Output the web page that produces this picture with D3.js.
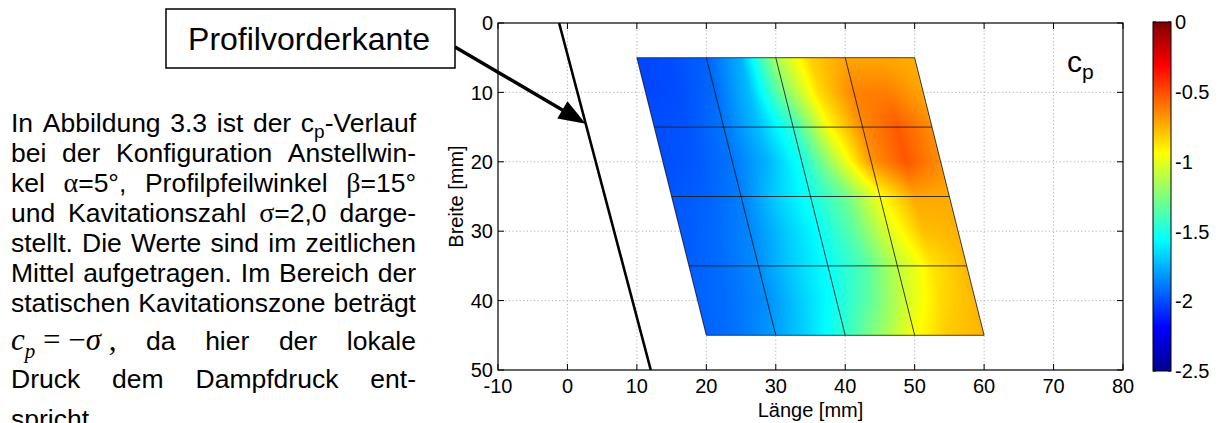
<!DOCTYPE html>
<html>
<head>
<meta charset="utf-8">
<title>cp-Verlauf</title>
<script src="https://d3js.org/d3.v7.min.js"></script>
<style>
  body { margin: 0; background: #fff; }
  svg { display: block; font-family: "Liberation Sans", Arial, sans-serif; }
</style>
</head>
<body>
<svg id="fig" width="1220" height="423"></svg>
<script>
// ---- data ----
const xTicks = [-10, 0, 10, 20, 30, 40, 50, 60, 70, 80];
const yTicks = [0, 10, 20, 30, 40, 50];
const cbTicks = [0, -0.5, -1, -1.5, -2, -2.5];

// measuring grid (mm): node rows in Breite, node columns as offset from the front edge
const rowY = [5, 10, 15, 20, 25, 30, 35, 40, 45];
const colOffset = [0, 5, 10, 15, 20, 25, 30, 35, 40];
const frontX = [10, 20];          // front edge of the grid at first / last row
const cellRows = [5, 15, 25, 35, 45];
const cellCols = [0, 10, 20, 30, 40];

// time-averaged cp at the nodes (rows top -> bottom, columns front -> back)
const cp = [
  [-2.02, -2.00, -1.95, -1.75, -1.15, -0.82, -0.72, -0.72, -0.74],
  [-2.02, -2.00, -1.93, -1.72, -1.25, -0.85, -0.63, -0.62, -0.72],
  [-2.00, -1.98, -1.90, -1.72, -1.45, -0.95, -0.65, -0.53, -0.66],
  [-2.00, -1.97, -1.90, -1.75, -1.52, -1.10, -0.68, -0.52, -0.66],
  [-1.98, -1.95, -1.88, -1.68, -1.52, -1.30, -0.95, -0.72, -0.73],
  [-1.97, -1.93, -1.86, -1.70, -1.55, -1.33, -1.02, -0.78, -0.75],
  [-1.96, -1.92, -1.84, -1.68, -1.55, -1.38, -1.10, -0.88, -0.76],
  [-1.95, -1.91, -1.84, -1.68, -1.52, -1.32, -1.05, -0.85, -0.76],
  [-1.95, -1.90, -1.80, -1.65, -1.45, -1.20, -0.95, -0.80, -0.75]
];

// Profilvorderkante (Länge, Breite)
const leadingEdge = [[-1.2, 0], [12.0, 50]];
const arrowAt = 14.5;   // Breite where the arrow meets the edge

const paragraph = [
  "In Abbildung 3.3 ist der c_p-Verlauf",
  "bei der Konfiguration Anstellwin-",
  "kel α=5°, Profilpfeilwinkel β=15°",
  "und Kavitationszahl σ=2,0 darge-",
  "stellt. Die Werte sind im zeitlichen",
  "Mittel aufgetragen. Im Bereich der",
  "statischen Kavitationszone beträgt",
  "$ da hier der lokale",
  "Druck dem Dampfdruck ent-",
  "spricht."
];

// jet colormap
const jetStops = [-2.5, -2.1875, -1.5625, -0.9375, -0.3125, 0];
const jetColors = ["#000090", "#0000ff", "#00ffff", "#ffff00", "#ff0000", "#800000"];

// ---- layout ----
const W = 1220, H = 423;
const svg = d3.select("#fig");

const x = d3.scaleLinear().domain([-10, 80]).range([498, 1123]);
const y = d3.scaleLinear().domain([0, 50]).range([23, 370]);
const cbY = d3.scaleLinear().domain([0, -2.5]).range([22, 371]);
const jet = d3.scaleLinear().domain(jetStops).range(jetColors).clamp(true);

const x0 = x.range()[0], x1 = x.range()[1], y0 = y.range()[0], y1 = y.range()[1];

svg.append("rect").attr("width", W).attr("height", H).attr("fill", "#fff");

// grid
const grid = svg.append("g").attr("stroke", "#b4b4b4").attr("stroke-dasharray", "1.2,2.4");
grid.selectAll(".gx").data(xTicks.slice(1, -1)).join("line")
  .attr("x1", d => x(d)).attr("x2", d => x(d)).attr("y1", y0).attr("y2", y1);
grid.selectAll(".gy").data(yTicks.slice(1, -1)).join("line")
  .attr("y1", d => y(d)).attr("y2", d => y(d)).attr("x1", x0).attr("x2", x1);

// interpolated cp field (shading interp) drawn into a canvas
const nR = rowY.length, nC = colOffset.length;
const span = colOffset[nC - 1];
const cv = document.createElement("canvas");
cv.width = W; cv.height = H;
const ctx = cv.getContext("2d");
const img = ctx.createImageData(W, H);
for (let py = Math.floor(y(rowY[0])) - 1; py <= Math.ceil(y(rowY[nR - 1])) + 1; py++) {
  for (let px = Math.floor(x(frontX[0])) - 1; px <= Math.ceil(x(frontX[1] + span)) + 1; px++) {
    const dY = y.invert(py + 0.5), dX = x.invert(px + 0.5);
    const v = (dY - rowY[0]) / (rowY[nR - 1] - rowY[0]);
    if (v < 0 || v > 1) continue;
    const front = frontX[0] + (frontX[1] - frontX[0]) * v;
    const u = (dX - front) / span;
    if (u < 0 || u > 1) continue;
    const fr = v * (nR - 1), fc = u * (nC - 1);
    const r = Math.min(Math.floor(fr), nR - 2), c = Math.min(Math.floor(fc), nC - 2);
    const tr = fr - r, tc = fc - c;
    const val = (1 - tr) * ((1 - tc) * cp[r][c] + tc * cp[r][c + 1]) +
                tr * ((1 - tc) * cp[r + 1][c] + tc * cp[r + 1][c + 1]);
    const col = d3.rgb(jet(val));
    const k = (py * W + px) * 4;
    img.data[k] = col.r; img.data[k + 1] = col.g; img.data[k + 2] = col.b; img.data[k + 3] = 255;
  }
}
ctx.putImageData(img, 0, 0);
svg.append("image").attr("x", 0).attr("y", 0).attr("width", W).attr("height", H)
  .attr("href", cv.toDataURL());

// cell lines
const frontAt = b => frontX[0] + (frontX[1] - frontX[0]) * (b - rowY[0]) / (rowY[nR - 1] - rowY[0]);
const cells = svg.append("g").attr("stroke", "#1c1c1c").attr("stroke-width", 1).attr("stroke-opacity", 0.85);
cells.selectAll(".hr").data(cellRows).join("line")
  .attr("x1", d => x(frontAt(d))).attr("x2", d => x(frontAt(d) + span))
  .attr("y1", d => y(d)).attr("y2", d => y(d));
cells.selectAll(".vc").data(cellCols).join("line")
  .attr("x1", d => x(frontX[0] + d)).attr("y1", y(rowY[0]))
  .attr("x2", d => x(frontX[1] + d)).attr("y2", y(rowY[nR - 1]));

// leading edge
svg.append("line")
  .attr("x1", x(leadingEdge[0][0])).attr("y1", y(leadingEdge[0][1]))
  .attr("x2", x(leadingEdge[1][0])).attr("y2", y(leadingEdge[1][1]))
  .attr("stroke", "#000").attr("stroke-width", 2.6);

// axes box and ticks
svg.append("rect").attr("x", x0).attr("y", y0).attr("width", x1 - x0).attr("height", y1 - y0)
  .attr("fill", "none").attr("stroke", "#000").attr("stroke-width", 1.2);
const tk = svg.append("g").attr("stroke", "#000").attr("stroke-width", 1);
xTicks.forEach(d => {
  tk.append("line").attr("x1", x(d)).attr("x2", x(d)).attr("y1", y1).attr("y2", y1 - 6);
  tk.append("line").attr("x1", x(d)).attr("x2", x(d)).attr("y1", y0).attr("y2", y0 + 6);
});
yTicks.forEach(d => {
  tk.append("line").attr("y1", y(d)).attr("y2", y(d)).attr("x1", x0).attr("x2", x0 + 6);
  tk.append("line").attr("y1", y(d)).attr("y2", y(d)).attr("x1", x1).attr("x2", x1 - 6);
});

const lab = svg.append("g").attr("font-size", 20).attr("fill", "#000");
lab.selectAll(".xl").data(xTicks).join("text")
  .attr("x", d => x(d)).attr("y", 393).attr("text-anchor", "middle").text(d => d);
lab.selectAll(".yl").data(yTicks).join("text")
  .attr("x", x0 - 5).attr("y", d => y(d)).attr("dy", "0.36em").attr("text-anchor", "end").text(d => d);
lab.append("text").attr("x", (x0 + x1) / 2).attr("y", 417).attr("text-anchor", "middle").text("Länge [mm]");
lab.append("text").attr("transform", `translate(463,${(y0 + y1) / 2}) rotate(-90)`)
  .attr("text-anchor", "middle").text("Breite [mm]");

// cp label in the plot
const cpl = svg.append("text").attr("x", 1067).attr("y", 72).attr("font-size", 30);
cpl.append("tspan").text("c");
cpl.append("tspan").attr("font-size", 21).attr("dy", 7).text("p");

// colorbar
const grad = svg.append("defs").append("linearGradient").attr("id", "jet")
  .attr("x1", 0).attr("x2", 0).attr("y1", 1).attr("y2", 0);
jetStops.forEach((s, i) => grad.append("stop")
  .attr("offset", (s - jetStops[0]) / (jetStops[jetStops.length - 1] - jetStops[0]))
  .attr("stop-color", jetColors[i]));
const cbx0 = 1153, cbx1 = 1171;
svg.append("rect").attr("x", cbx0).attr("y", cbY(0)).attr("width", cbx1 - cbx0)
  .attr("height", cbY(-2.5) - cbY(0)).attr("fill", "url(#jet)").attr("stroke", "#000").attr("stroke-width", 1);
cbTicks.forEach(d => {
  tk.append("line").attr("x1", cbx0).attr("x2", cbx0 + 3).attr("y1", cbY(d)).attr("y2", cbY(d));
  tk.append("line").attr("x1", cbx1).attr("x2", cbx1 - 3).attr("y1", cbY(d)).attr("y2", cbY(d));
});
lab.selectAll(".cl").data(cbTicks).join("text")
  .attr("x", cbx1 + 4).attr("y", d => cbY(d)).attr("dy", "0.36em").text(d => d);

// ---- paragraph ----
const pg = svg.append("g").attr("font-size", 26.5).attr("fill", "#000");
const textLeft = 11, textRight = 416;
const baselines = [132, 162, 192, 222, 252, 282, 312, 350, 388, 428];

function addWord(word, yb) {
  const t = pg.append("text").attr("x", 0).attr("y", yb);
  if (word === "$") {
    const f = t.attr("font-family", "Liberation Serif, Times New Roman, serif").attr("font-size", 31);
    f.append("tspan").attr("font-style", "italic").text("c");
    f.append("tspan").attr("font-style", "italic").attr("font-size", 21).attr("dy", 8).text("p");
    f.append("tspan").attr("dy", -8).text(" = \u2212");
    f.append("tspan").attr("font-style", "italic").text("σ");
    f.append("tspan").text(" ,");
    return t;
  }
  const parts = word.match(/_.|[αβσ]|[^_αβσ]+/g);
  let lowered = false;
  parts.forEach(p => {
    const s = t.append("tspan");
    if (lowered) { s.attr("dy", -6); lowered = false; }
    if (p[0] === "_") {
      s.attr("font-size", 19).attr("dy", 6).text(p[1]);
      lowered = true;
    } else if (/[αβσ]/.test(p)) {
      s.attr("font-family", "Liberation Serif, serif").attr("font-size", 28).text(p);
    } else {
      s.text(p);
    }
  });
  return t;
}

paragraph.forEach((line, i) => {
  const words = line.split(" ");
  const nodes = words.map(w => addWord(w, baselines[i]));
  const widths = nodes.map(n => n.node().getComputedTextLength());
  const total = d3.sum(widths);
  const last = i === paragraph.length - 1;
  const gap = last || words.length < 2 ? 7.4 : (textRight - textLeft - total) / (words.length - 1);
  let cx = textLeft;
  nodes.forEach((n, k) => { n.attr("x", cx); cx += widths[k] + gap; });
});

// ---- annotation: box + arrow ----
const tipB = arrowAt;
const tipL = leadingEdge[0][0] + (leadingEdge[1][0] - leadingEdge[0][0]) *
  (tipB - leadingEdge[0][1]) / (leadingEdge[1][1] - leadingEdge[0][1]);
const tip = [x(tipL), y(tipB)], start = [455, 47];
const ang = Math.atan2(tip[1] - start[1], tip[0] - start[0]);
const hl = 27, hw = 10;
const base = [tip[0] - hl * Math.cos(ang), tip[1] - hl * Math.sin(ang)];
svg.append("line").attr("x1", start[0]).attr("y1", start[1]).attr("x2", base[0] + 2 * Math.cos(ang)).attr("y2", base[1] + 2 * Math.sin(ang))
  .attr("stroke", "#000").attr("stroke-width", 3.5);
svg.append("path").attr("fill", "#000").attr("d", d3.line()([
  tip,
  [base[0] + hw * Math.sin(ang), base[1] - hw * Math.cos(ang)],
  [base[0] - hw * Math.sin(ang), base[1] + hw * Math.cos(ang)]
]));
svg.append("rect").attr("x", 166).attr("y", 9).attr("width", 289).attr("height", 59)
  .attr("fill", "#fff").attr("stroke", "#000").attr("stroke-width", 1.5);
svg.append("text").attr("x", 309).attr("y", 50).attr("text-anchor", "middle")
  .attr("font-size", 32).text("Profilvorderkante");
</script>
</body>
</html>
